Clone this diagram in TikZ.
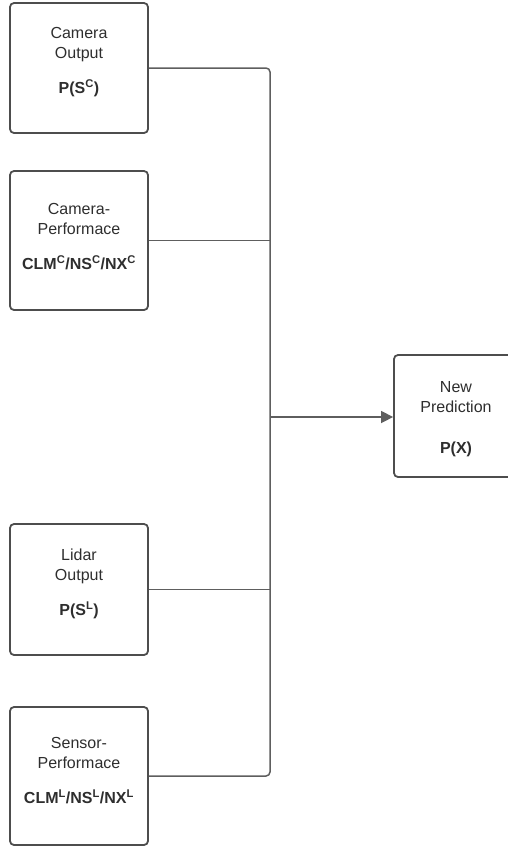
\documentclass[tikz,border=0pt]{standalone}
\usepackage{fontspec}
\setmainfont{Liberation Sans}
\usetikzlibrary{arrows.meta}
\definecolor{boxgray}{HTML}{4D4D4D}
\definecolor{linegray}{HTML}{5E5E5E}
\definecolor{txtgray}{HTML}{2E2E2E}
\begin{document}
\begin{tikzpicture}[x=1pt,y=-1pt,
 box/.style={draw=boxgray, line width=1.8pt, rounded corners=4pt, minimum width=138pt, inner sep=0pt},
 lbl/.style={align=center, font=\fontsize{16}{20}\selectfont, text=txtgray, inner sep=0pt},
 conn/.style={draw=linegray, line width=1.5pt}]
\useasboundingbox (0,0) rectangle (508,847);
\clip (0,0) rectangle (508,847);
\node[box, minimum height=130pt] (co) at (79,68) {};
\node[box, minimum height=139pt] (cp) at (79,240.5) {};
\node[box, minimum height=131pt] (lo) at (79,589.5) {};
\node[box, minimum height=138pt] (sp) at (79,776) {};
\node[box, minimum width=124pt, minimum height=122pt] (np) at (456,416) {};
\node[lbl] (co-t) at (79,62) {Camera\\Output\\[15pt]\textbf{P(S\textsuperscript{C})}};
\node[lbl] (cp-t) at (79,237) {Camera-\\Performace\\[15pt]\textbf{CLM\textsuperscript{C}/NS\textsuperscript{C}/NX\textsuperscript{C}}};
\node[lbl] (lo-t) at (79,584) {Lidar\\Output\\[15pt]\textbf{P(S\textsuperscript{L})}};
\node[lbl] (sp-t) at (79,771) {Sensor-\\Performace\\[15pt]\textbf{CLM\textsuperscript{L}/NS\textsuperscript{L}/NX\textsuperscript{L}}};
\node[lbl] (np-t) at (456,419) {New\\Prediction\\[21pt]\textbf{P(X)}};
\coordinate (jt) at (270,68);
\coordinate (jb) at (270,776);
\coordinate (jm) at (270,417);
\draw[conn, rounded corners=4pt] (co.east) -- (jt) -- (jb) -- (sp.east);
\draw[conn] (cp.east) -- (cp.east -| jt);
\draw[conn] (lo.east) -- (lo.east -| jt);
\draw[conn, -{Triangle[length=12pt,width=12pt]}] (jm) -- (jm -| np.west);
\end{tikzpicture}
\end{document}
